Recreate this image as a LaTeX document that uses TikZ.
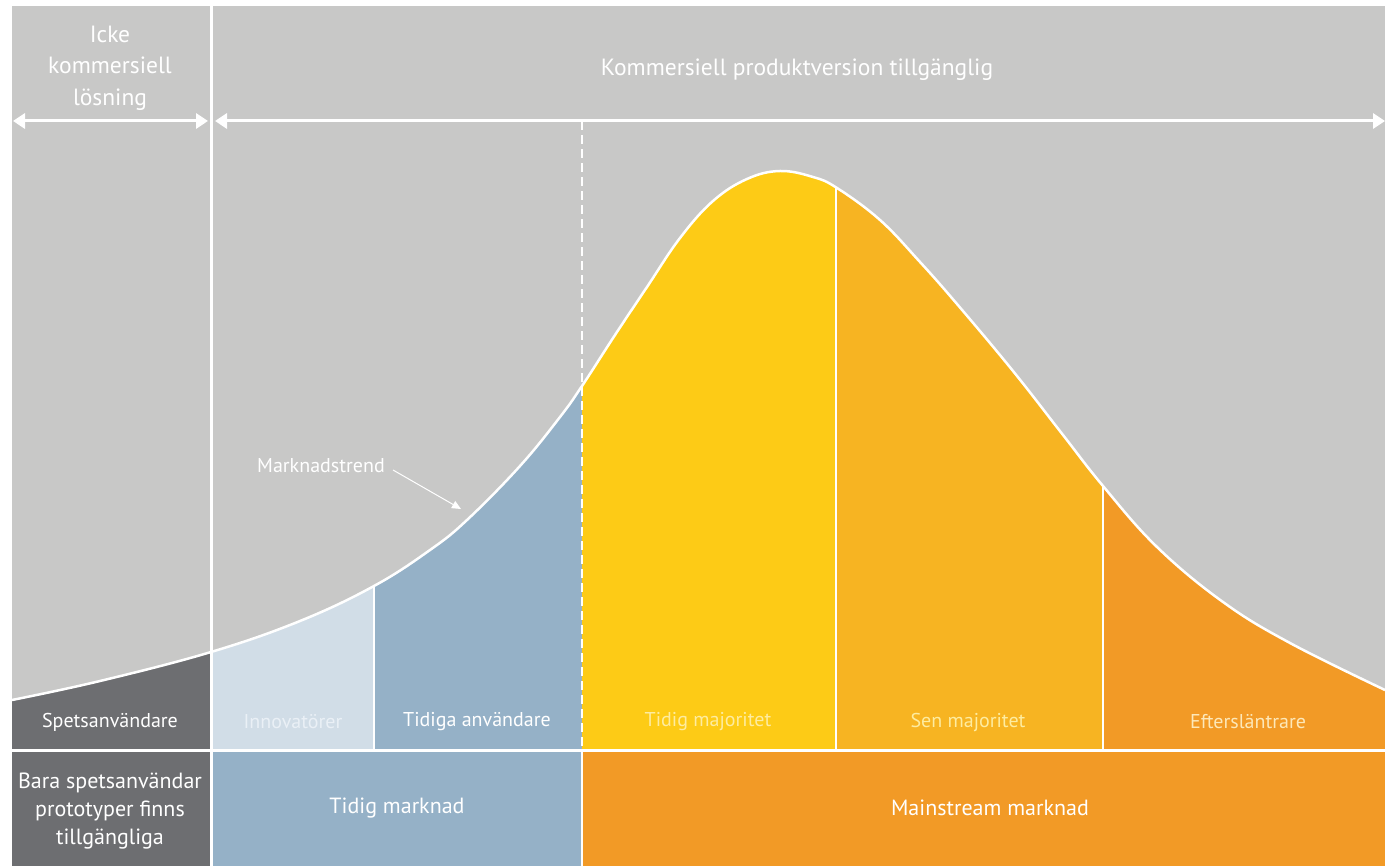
\documentclass[tikz,border=0pt]{standalone}
\usepackage{fontspec}
\setmainfont{PT Sans}
\usetikzlibrary{arrows.meta}
\definecolor{bggray}{RGB}{200,200,199}
\definecolor{dkgray}{RGB}{109,110,113}
\definecolor{ltblue}{RGB}{209,221,231}
\definecolor{mdblue}{RGB}{149,177,199}
\definecolor{yel}{RGB}{253,203,22}
\definecolor{yelor}{RGB}{247,180,34}
\definecolor{orng}{RGB}{242,154,38}
\definecolor{paleyel}{RGB}{254,236,160}
\definecolor{paleblue}{RGB}{234,240,246}
\definecolor{paleor}{RGB}{253,232,185}
\begin{document}
\begin{tikzpicture}[x=1pt,y=-1pt,
  lbl/.style={text=white,font=\fontsize{20}{28}\selectfont,align=center,inner sep=0pt},
  mktlbl/.style={text=white,font=\fontsize{22}{28}\selectfont,align=center,inner sep=0pt},
  toplbl/.style={text=white,font=\fontsize{23.5}{31.5}\selectfont,align=center,inner sep=0pt},
  wline/.style={draw=white,line width=3pt},
  span/.style={draw=white,line width=3pt,{Triangle[length=12pt,width=15pt]}-{Triangle[length=12pt,width=15pt]}}
]
\def\curvepts{(12,700) (100,681) (211,652) (300,621) (374,586) (430,550) (467,520) (520,466) (560,417) (582,386) (615,335) (647,287) (680,238) (713,201) (747,179) (780,171) (813,177) (837,188) (880,220) (920,262) (957,304) (1013,371) (1063,435) (1103,486) (1157,547) (1223,602) (1290,643) (1385,690)}
\useasboundingbox (0,0) rectangle (1385,866);
\fill[white] (0,0) rectangle (1385,866);
\fill[bggray] (12,6) rectangle (1385,750);
% bottom row
\fill[dkgray] (12,750) rectangle (211,866);
\fill[mdblue] (211,750) rectangle (582,866);
\fill[orng] (582,750) rectangle (1385,866);
% regions under the curve
\begin{scope}
  \clip (12,750) -- plot[smooth,tension=0.65] coordinates {\curvepts} -- (1385,750) -- cycle;
  \fill[dkgray] (0,0) rectangle (211,750);
  \fill[ltblue] (211,0) rectangle (374,750);
  \fill[mdblue] (374,0) rectangle (582,750);
  \fill[yel] (582,0) rectangle (836,750);
  \fill[yelor] (836,0) rectangle (1103,750);
  \fill[orng] (1103,0) rectangle (1385,750);
  \draw[wline,line width=2.5pt] (374,0) -- (374,750);
  \draw[wline,line width=2.5pt] (836,0) -- (836,750);
  \draw[wline,line width=2.5pt] (1103,0) -- (1103,750);
\end{scope}
\draw[white,line width=2.5pt] plot[smooth,tension=0.65] coordinates {\curvepts};
% structure lines
\coordinate (vtop) at (211,6);
\coordinate (vbot) at (211,866);
\draw[wline] (vtop) -- (vbot);
\coordinate (hl) at (12,750);
\coordinate (hr) at (1385,750);
\draw[wline] (hl) -- (hr);
\coordinate (dtop) at (582,121);
\coordinate (dmid) at (582,750);
\coordinate (dbot) at (582,866);
\draw[white,line width=2.5pt,dash pattern=on 9pt off 5pt] (dtop) -- (dmid);
\draw[wline,line width=2.5pt] (dmid) -- (dbot);
% span arrows
\coordinate (a1l) at (13,121);
\coordinate (a1r) at (208,121);
\coordinate (a2l) at (215,121);
\coordinate (a2r) at (1385,121);
\draw[span] (a1l) -- (a1r);
\draw[span] (a2l) -- (a2r);
% top texts
\node[toplbl] (icke) at (110,68) {Icke\\kommersiell\\lösning};
\node[toplbl] (komm) at (797,70) {Kommersiell produktversion tillgänglig};
% trend annotation
\node[lbl] (trend) at (321,466) {Marknadstrend};
\coordinate (trendtip) at (461,509);
\draw[white,line width=1pt,-{Triangle[length=9pt,width=8pt]}] (trend.east)++(8,4) -- (trendtip);
% segment labels
\node[lbl] (spets) at (110,722) {Spetsanvändare};
\node[lbl,text=paleblue] (innov) at (293,722) {Innovatörer};
\node[lbl] (tidiga) at (477,722) {Tidiga användare};
\node[lbl,text=paleyel] (tmaj) at (708,722) {Tidig majoritet};
\node[lbl,text=paleyel] (smaj) at (968,722) {Sen majoritet};
\node[lbl,text=paleor] (efter) at (1248,722) {Eftersläntrare};
% market labels
\node[mktlbl] (bara) at (110,811) {Bara spetsanvändar\\prototyper finns\\tillgängliga};
\node[mktlbl] (tmark) at (397,808) {Tidig marknad};
\node[mktlbl] (mmark) at (990,808) {Mainstream marknad};
\end{tikzpicture}
\end{document}
